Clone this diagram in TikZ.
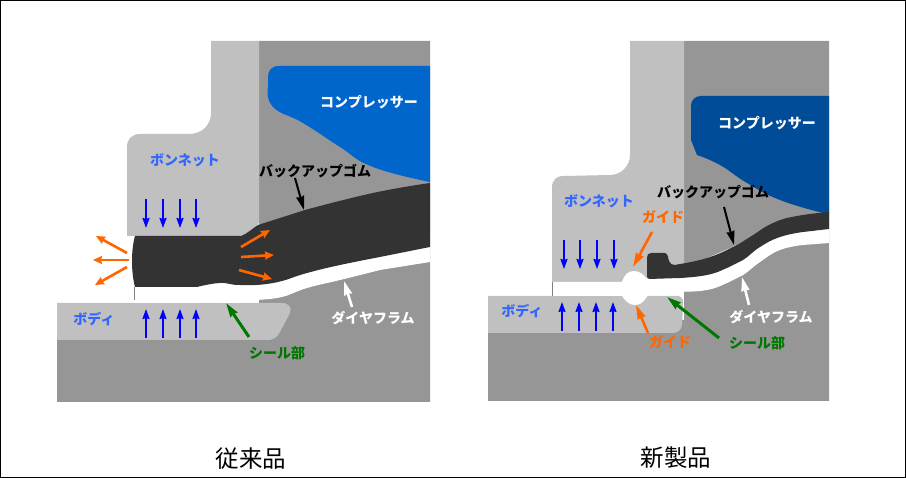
\documentclass[tikz,border=0pt]{standalone}
\usepackage{fontspec}
\setmainfont{Noto Sans CJK JP}
\usetikzlibrary{arrows.meta}
\definecolor{lightpart}{HTML}{C0C0C0}
\definecolor{darkpart}{HTML}{969696}
\definecolor{rubber}{HTML}{333333}
\definecolor{compA}{HTML}{0066CC}
\definecolor{compB}{HTML}{004C99}
\definecolor{bluetext}{HTML}{3366FF}
\definecolor{guide}{HTML}{FF6600}
\definecolor{seal}{HTML}{007700}
\begin{document}
\begin{tikzpicture}[
    x=1pt,y=-1pt,
    pressure/.style={
      draw=blue,line width=1.8pt,-{Stealth[length=10pt,width=7pt,inset=1pt]}
    },
    force/.style={
      draw=guide,line width=2.6pt,-{Stealth[length=9pt,width=8pt,inset=1pt]}
    },
    pointer/.style={
      line width=2pt,-{Stealth[length=14pt,width=8pt,inset=1pt]}
    },
    label/.style={
      font=\bfseries\fontsize{14}{15}\selectfont,inner sep=0pt
    },
    caption/.style={
      font=\fontsize{23.5}{25}\selectfont,inner sep=0pt
    },
    edge/.style={
      smooth,tension=0.8
    }
  ]
    \useasboundingbox (0,0) rectangle (906,478);
    \draw[black,line width=1.5pt] (0.5,0.5) rectangle (905.5,477.5);

    % left parts
    \fill[darkpart] (259,41) -- (430,41) -- (430,402) -- (57,402) -- (57,320) -- (259,320) -- cycle;
    \fill[compA] (430,66) -- (279,66) .. controls (271,66) and (268,71) .. (268,77)
      -- plot[edge] coordinates {(268,87) (273,107) (303,123) (340,147) (373,167) (430,182)} -- cycle;
    \fill[lightpart] (211,41) -- (259,41) -- (259,222) .. controls (256,230) and (248,236) .. (241,236)
      -- (127,236) -- (127,147) .. controls (127,139) and (132,134) .. (140,134)
      -- (189,134) .. controls (202,134) and (211,125) .. (211,113) -- cycle;
    \fill[lightpart] (57,303) -- (282,303) .. controls (289,303) and (292,308) .. (290,313)
      -- (280,332) .. controls (277,337) and (274,340) .. (268,340) -- (57,340) -- cycle;
    \fill[white] (135,280) -- (273,275) -- (430,235) -- (430,262)
      -- plot[edge] coordinates {(380,270) (340,280) (307,288) (277,298) (240,300)}
      -- (238,303) -- (222,303) -- (213,300) -- (197,303) -- (135,303) -- cycle;
    \fill[rubber] (135,236) -- (241,236) .. controls (247,234) and (253,228) .. (258,225)
      -- plot[edge] coordinates {(305,210) (373,193) (430,183)} -- (430,247)
      -- plot[edge] coordinates {(380,257) (340,265) (307,273) (273,283) (240,285) (220,283) (197,287)}
      -- (135,287) .. controls (131,272) and (131,250) .. (135,236) -- cycle;
    \draw[gray,line width=1pt] (134.5,287) -- (134.5,300);

    % right parts
    \fill[darkpart] (684,41) -- (829,41) -- (829,401) -- (488,401) -- (488,320) -- (684,320) -- cycle;
    \fill[compB] (829,96) -- (701,96) .. controls (695,96) and (691,100) .. (691,106) -- (691,140)
      -- plot[edge] coordinates {(697,155) (720,165) (747,183) (780,200) (823,213)} -- (829,214) -- cycle;
    \fill[lightpart] (630,41) -- (684,41) -- (684,282) -- (552,282) -- (552,188) .. controls (552,180) and (556,176) .. (564,176)
      -- (610,175) .. controls (621,175) and (630,166) .. (630,155) -- cycle;
    \fill[lightpart] (488,296) -- (675,296) .. controls (680,295) and (684,298) .. (683,304)
      -- (682,325) .. controls (681,330) and (678,333) .. (672,333) -- (488,333) -- cycle;
    \fill[white] (553,282) -- (622,282) .. controls (624,275) and (628,271) .. (634,271) .. controls (640,271) and (644,275) .. (647,279)
      -- (680,270) -- (760,235) -- (829,220) -- (829,243)
      -- plot[edge] coordinates {(803,245) (780,250) (760,262) (743,275) (727,283) (707,290) (680,292) (673,293)}
      -- (668,295) -- (662,294) -- (660,292) -- (650,293) -- (646,298) .. controls (643,303) and (639,305) .. (635,305)
      .. controls (630,305) and (626,302) .. (622,296) -- (553,296) -- cycle;
    \fill[rubber] (647,258) .. controls (647,255) and (648,253) .. (651,253) -- (665,253) .. controls (668,254) and (668,258) .. (669,261)
      .. controls (670,264) and (672,265) .. (675,265) -- plot[edge] coordinates {(680,264) (707,258) (733,247) (750,237) (773,223) (797,216) (829,212)}
      -- (829,229) -- plot[edge] coordinates {(803,232) (780,237) (760,247) (743,260) (727,268) (707,275) (680,278)} -- (649,279) -- (647,277) -- cycle;
    \draw[gray,line width=1pt] (552,282) -- (552,296);

    % left labels
    \node[label,bluetext] (BonnetL) at (185,160) {ボンネット};
    \node[label,white]    (CompL)   at (369,102) {コンプレッサー};
    \node[label,black]    (BackL)   at (315,171) {バックアップゴム};
    \node[label,bluetext] (BodyL)   at (94,319)  {ボディ};
    \node[label,white]    (DiaL)    at (373,318) {ダイヤフラム};
    \node[label,seal]     (SealL)   at (277,353) {シール部};
    \node[caption]        (CapL)    at (251,459) {従来品};

    % right labels
    \node[label,bluetext] (BonnetR) at (599,201) {ボンネット};
    \node[label,white]    (CompR)   at (767,123) {コンプレッサー};
    \node[label,black]    (BackR)   at (713,192) {バックアップゴム};
    \node[label,guide]    (GuideA)  at (663,217) {ガイド};
    \node[label,guide]    (GuideB)  at (670,342) {ガイド};
    \node[label,bluetext] (BodyR)   at (522,311) {ボディ};
    \node[label,white]    (DiaR)    at (771,317) {ダイヤフラム};
    \node[label,seal]     (SealR)   at (757,343) {シール部};
    \node[caption]        (CapR)    at (676,458) {新製品};

    % pressure arrows
    \foreach \x in {146,163,180,196} {
      \coordinate (DnA\x) at (\x,199);
      \coordinate (DnB\x) at (\x,228);
      \coordinate (UpA\x) at (\x,338);
      \coordinate (UpB\x) at (\x,309);
      \draw[pressure] (DnA\x) -- (DnB\x);
      \draw[pressure] (UpA\x) -- (UpB\x);
    }
    \foreach \x in {564,580,597,614} {
      \coordinate (DnA\x) at (\x,240);
      \coordinate (DnB\x) at (\x,269);
      \draw[pressure] (DnA\x) -- (DnB\x);
    }
    \foreach \x in {562,579,596,613} {
      \coordinate (UpA\x) at (\x,331);
      \coordinate (UpB\x) at (\x,302);
      \draw[pressure] (UpA\x) -- (UpB\x);
    }

    % orange arrows
    \foreach \n/\a/\b/\c/\d in {A/127/253/96/236,B/129/260/93/260,C/127/267/95/285,D/241/247/270/230,E/241/257/274/255,F/239/270/272/279} {
      \coordinate (Fa\n) at (\a,\b);
      \coordinate (Fb\n) at (\c,\d);
      \draw[force] (Fa\n) -- (Fb\n);
    }
    \coordinate (GaTipA) at (633,267);
    \coordinate (GaTipB) at (636,305);
    \draw[pointer,guide,line width=2.6pt] (652,232) coordinate (GaTail) -- (GaTipA);
    \draw[pointer,guide,line width=2.6pt] (648,333) coordinate (GbTail) -- (GaTipB);

    % pointers
    \coordinate (BkTipL) at (304,210);
    \coordinate (BkTipR) at (734,245);
    \coordinate (WtTipL) at (344,281);
    \coordinate (WtTipR) at (742,277);
    \coordinate (GrTipL) at (226,303);
    \coordinate (GrTipR) at (667,297);
    \draw[pointer,black] (295,178) coordinate (BkTailL) -- (BkTipL);
    \draw[pointer,black] (724,207) coordinate (BkTailR) -- (BkTipR);
    \draw[pointer,white,line width=2.6pt] (352,307) coordinate (WtTailL) -- (WtTipL);
    \draw[pointer,white,line width=2.6pt] (749,305) coordinate (WtTailR) -- (WtTipR);
    \draw[pointer,seal,line width=3pt] (249,337) coordinate (GrTailL) -- (GrTipL);
    \draw[pointer,seal,line width=3pt] (719,338) coordinate (GrTailR) -- (GrTipR);
  \end{tikzpicture}
\end{document}
